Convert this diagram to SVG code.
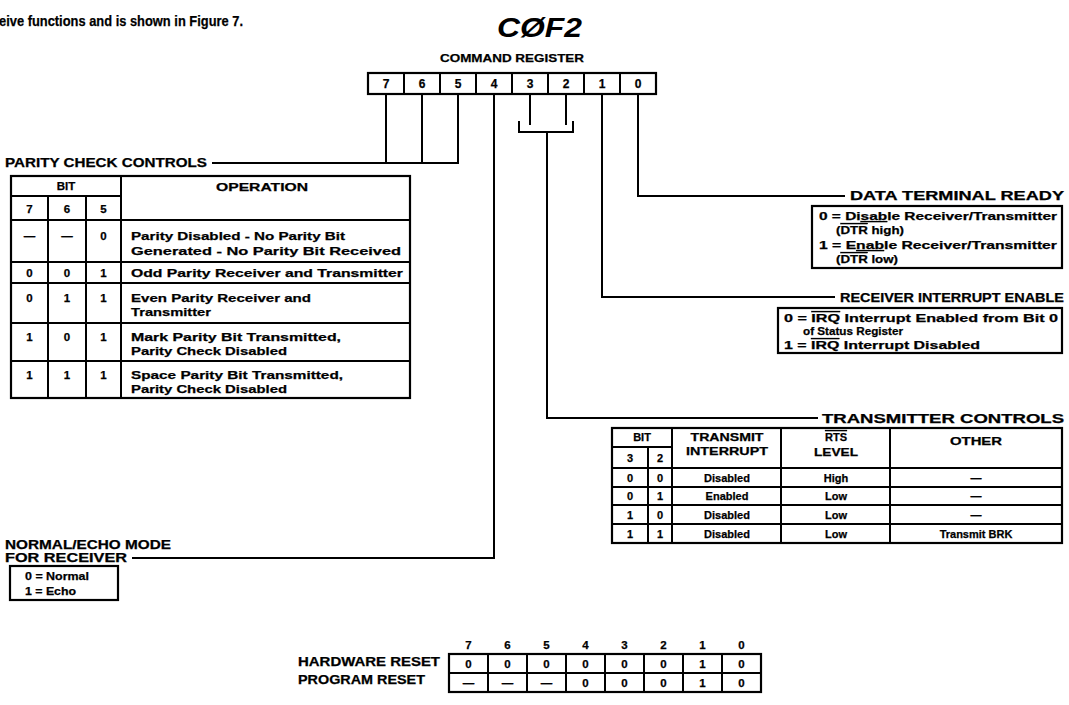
<svg xmlns="http://www.w3.org/2000/svg" width="1069" height="705" viewBox="0 0 1069 705">
<style>
.t{font-family:"Liberation Sans",Arial,sans-serif;font-weight:bold;fill:#000;stroke:#000;stroke-width:0.25}
.c{text-anchor:middle}
.e{text-anchor:end}
.s12{font-size:12px}
.s11{font-size:11.5px}
.s10{font-size:11px}
.ln{stroke:#000;stroke-width:2;fill:none}
.bx{stroke:#000;stroke-width:2.2;fill:#fff}
.ov{text-decoration:overline}
.un{text-decoration:underline}
</style>
<rect width="1069" height="705" fill="#fff"/>
<text class="t" x="-1" y="26" font-size="15" textLength="244" lengthAdjust="spacingAndGlyphs">eive functions and is shown in Figure 7.</text>
<text x="497" y="37" font-family="Liberation Sans,Arial,sans-serif" font-style="italic" font-weight="bold" font-size="28" textLength="85" lengthAdjust="spacingAndGlyphs">CØF2</text>

<g id="command-register">
<text class="t c" x="512" y="62" font-size="11.5" textLength="144" lengthAdjust="spacingAndGlyphs">COMMAND REGISTER</text>
<rect class="bx" x="368" y="73" width="288" height="21"/>
<path class="ln" d="M404,73V94M440,73V94M476,73V94M512,73V94M548,73V94M584,73V94M620,73V94"/>
<g class="t c s12">
<text x="386" y="88">7</text><text x="422" y="88">6</text><text x="458" y="88">5</text><text x="494" y="88">4</text>
<text x="530" y="88">3</text><text x="566" y="88">2</text><text x="602" y="88">1</text><text x="638" y="88">0</text>
</g>
</g>

<g id="connectors">
<path class="ln" d="M386,94V163M422,94V163M458,94V163H212"/>
<path class="ln" d="M494,94V558H132"/>
<path class="ln" d="M530,94V125M566,94V125M519,121V132H573V121M547,132V418H818"/>
<path class="ln" d="M602,94V297H835"/>
<path class="ln" d="M638,94V196H845"/>
</g>

<g id="parity-check-controls">
<text class="t" x="5" y="167" font-size="12.5" textLength="202" lengthAdjust="spacingAndGlyphs">PARITY CHECK CONTROLS</text>
<rect class="bx" x="11" y="176" width="399" height="222"/>
<path class="ln" d="M121,176V398M48,196V398M86,196V398M11,196H121M11,220H410M11,262H410M11,283H410M11,323H410M11,361H410"/>
<g class="t c s11">
<text x="66" y="190">BIT</text>
<text x="262" y="191" textLength="92" lengthAdjust="spacingAndGlyphs">OPERATION</text>
<text x="29.5" y="213">7</text><text x="67" y="213">6</text><text x="103.5" y="213">5</text>
<text x="29.5" y="240">—</text><text x="67" y="240">—</text><text x="103.5" y="240">0</text>
<text x="29.5" y="277">0</text><text x="67" y="277">0</text><text x="103.5" y="277">1</text>
<text x="29.5" y="302">0</text><text x="67" y="302">1</text><text x="103.5" y="302">1</text>
<text x="29.5" y="341">1</text><text x="67" y="341">0</text><text x="103.5" y="341">1</text>
<text x="29.5" y="379">1</text><text x="67" y="379">1</text><text x="103.5" y="379">1</text>
</g>
<g class="t s11">
<text x="131" y="240" textLength="214" lengthAdjust="spacingAndGlyphs">Parity Disabled - No Parity Bit</text>
<text x="131" y="255" textLength="270" lengthAdjust="spacingAndGlyphs">Generated - No Parity Bit Received</text>
<text x="131" y="277" textLength="272" lengthAdjust="spacingAndGlyphs">Odd Parity Receiver and Transmitter</text>
<text x="131" y="302" textLength="180" lengthAdjust="spacingAndGlyphs">Even Parity Receiver and</text>
<text x="131" y="316" textLength="80" lengthAdjust="spacingAndGlyphs">Transmitter</text>
<text x="131" y="341" textLength="210" lengthAdjust="spacingAndGlyphs">Mark Parity Bit Transmitted,</text>
<text x="131" y="355" textLength="156" lengthAdjust="spacingAndGlyphs">Parity Check Disabled</text>
<text x="131" y="379" textLength="212" lengthAdjust="spacingAndGlyphs">Space Parity Bit Transmitted,</text>
<text x="131" y="393" textLength="156" lengthAdjust="spacingAndGlyphs">Parity Check Disabled</text>
</g>
</g>

<g id="normal-echo-mode">
<text class="t" x="5" y="549" font-size="12" textLength="166" lengthAdjust="spacingAndGlyphs">NORMAL/ECHO MODE</text>
<text class="t" x="5" y="562" font-size="12" textLength="122" lengthAdjust="spacingAndGlyphs">FOR RECEIVER</text>
<rect class="bx" x="10" y="566" width="108" height="34"/>
<text class="t s10" x="25" y="580" textLength="64" lengthAdjust="spacingAndGlyphs">0 = Normal</text>
<text class="t s10" x="25" y="595" textLength="51" lengthAdjust="spacingAndGlyphs">1 = Echo</text>
</g>

<g id="data-terminal-ready">
<text class="t e" x="1064" y="200" font-size="12" textLength="214" lengthAdjust="spacingAndGlyphs">DATA TERMINAL READY</text>
<rect class="bx" x="812" y="206" width="250" height="62"/>
<g class="t s10">
<text x="819" y="220" textLength="238" lengthAdjust="spacingAndGlyphs">0 = Di<tspan class="un">sab</tspan>le Receiver/Transmitter</text>
<text x="836" y="234" textLength="68" lengthAdjust="spacingAndGlyphs">(<tspan class="ov">DTR</tspan> high)</text>
<text x="819" y="249" textLength="238" lengthAdjust="spacingAndGlyphs">1 = E<tspan class="un">nab</tspan>le Receiver/Transmitter</text>
<text x="836" y="263" textLength="62" lengthAdjust="spacingAndGlyphs">(<tspan class="ov">DTR</tspan> low)</text>
</g>
</g>

<g id="receiver-interrupt-enable">
<text class="t e" x="1064" y="302" font-size="12" textLength="224" lengthAdjust="spacingAndGlyphs">RECEIVER INTERRUPT ENABLE</text>
<rect class="bx" x="778" y="308" width="284" height="45"/>
<g class="t s10">
<text x="784" y="322" textLength="274" lengthAdjust="spacingAndGlyphs">0 = <tspan class="ov">IRQ</tspan> Interrupt Enabled from Bit 0</text>
<text x="803" y="335" textLength="100" lengthAdjust="spacingAndGlyphs">of Status Register</text>
<text x="784" y="349" textLength="196" lengthAdjust="spacingAndGlyphs">1 = <tspan class="ov">IRQ</tspan> Interrupt Disabled</text>
</g>
</g>

<g id="transmitter-controls">
<text class="t e" x="1064" y="423" font-size="12" textLength="242" lengthAdjust="spacingAndGlyphs">TRANSMITTER CONTROLS</text>
<rect class="bx" x="612" y="428" width="450" height="115"/>
<path class="ln" d="M648,447V543M672,428V543M781,428V543M890,428V543M612,447H672M612,468H1062M612,487H1062M612,505H1062M612,524H1062"/>
<g class="t c s10">
<text x="642" y="441">BIT</text>
<text x="630" y="462">3</text><text x="660" y="462">2</text>
<text x="727" y="441" textLength="73" lengthAdjust="spacingAndGlyphs">TRANSMIT</text>
<text x="727" y="455" textLength="82" lengthAdjust="spacingAndGlyphs">INTERRUPT</text>
<text x="836" y="441"><tspan class="ov">RTS</tspan></text>
<text x="836" y="456" textLength="44" lengthAdjust="spacingAndGlyphs">LEVEL</text>
<text x="976" y="445" textLength="52" lengthAdjust="spacingAndGlyphs">OTHER</text>
<text x="630" y="482">0</text><text x="660" y="482">0</text><text x="727" y="482">Disabled</text><text x="836" y="482">High</text><text x="976" y="482">—</text>
<text x="630" y="500">0</text><text x="660" y="500">1</text><text x="727" y="500">Enabled</text><text x="836" y="500">Low</text><text x="976" y="500">—</text>
<text x="630" y="519">1</text><text x="660" y="519">0</text><text x="727" y="519">Disabled</text><text x="836" y="519">Low</text><text x="976" y="519">—</text>
<text x="630" y="538">1</text><text x="660" y="538">1</text><text x="727" y="538">Disabled</text><text x="836" y="538">Low</text><text x="976" y="538">Transmit BRK</text>
</g>
</g>

<g id="reset-values">
<g class="t c s11">
<text x="468.5" y="649">7</text><text x="507.5" y="649">6</text><text x="546.5" y="649">5</text><text x="585.5" y="649">4</text>
<text x="624.5" y="649">3</text><text x="663.5" y="649">2</text><text x="702.5" y="649">1</text><text x="741.5" y="649">0</text>
</g>
<text class="t" x="298" y="666" font-size="12" textLength="142" lengthAdjust="spacingAndGlyphs">HARDWARE RESET</text>
<text class="t" x="298" y="684" font-size="12" textLength="127" lengthAdjust="spacingAndGlyphs">PROGRAM RESET</text>
<rect class="bx" x="449" y="654" width="312" height="38"/>
<path class="ln" d="M449,673H761M488,654V692M527,654V692M566,654V692M605,654V692M644,654V692M683,654V692M722,654V692"/>
<g class="t c s11">
<text x="468.5" y="668">0</text><text x="507.5" y="668">0</text><text x="546.5" y="668">0</text><text x="585.5" y="668">0</text>
<text x="624.5" y="668">0</text><text x="663.5" y="668">0</text><text x="702.5" y="668">1</text><text x="741.5" y="668">0</text>
<text x="468.5" y="687">—</text><text x="507.5" y="687">—</text><text x="546.5" y="687">—</text><text x="585.5" y="687">0</text>
<text x="624.5" y="687">0</text><text x="663.5" y="687">0</text><text x="702.5" y="687">1</text><text x="741.5" y="687">0</text>
</g>
</g>
</svg>
